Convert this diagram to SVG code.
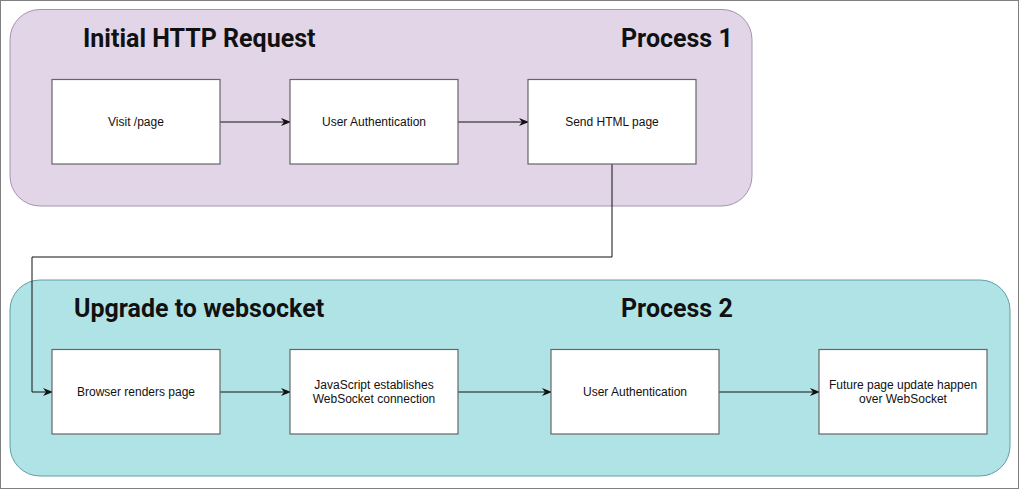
<svg xmlns="http://www.w3.org/2000/svg" width="1021" height="491" viewBox="0 0 1021 491">
<defs>
<marker id="arr" viewBox="0 0 10 10" refX="9" refY="5" markerWidth="10" markerHeight="10" markerUnits="userSpaceOnUse" orient="auto">
<path d="M0,1 L10,5 L0,9 L3,5 Z" fill="#111"/>
</marker>
<style>
.box{fill:#ffffff;stroke:#666666;stroke-width:1.2}
.lbl{font-family:"Liberation Sans",Arial,sans-serif;font-size:12px;fill:#111;text-anchor:middle}
.title{font-family:Roboto,"Liberation Sans",sans-serif;font-weight:bold;font-size:25px;fill:#111}
.edge{fill:none;stroke:#111;stroke-width:1;marker-end:url(#arr)}
</style>
</defs>
<rect x="0.5" y="0.5" width="1018" height="488" fill="#ffffff" stroke="#808080" stroke-width="1"/>
<g id="process1">
<rect x="10" y="9.5" width="742" height="196.5" rx="30" ry="30" fill="#e1d5e7" stroke="#a594ad" stroke-width="1"/>
<text class="title" x="83" y="47">Initial HTTP Request</text>
<text class="title" x="621" y="47">Process 1</text>
</g>
<g id="process2">
<rect x="10" y="280" width="1000" height="196" rx="30" ry="30" fill="#b0e3e6" stroke="#5f9ea2" stroke-width="1"/>
<text class="title" x="74" y="317">Upgrade to websocket</text>
<text class="title" x="621" y="317">Process 2</text>
</g>
<g id="connectors">
<path class="edge" d="M220,122 H290"/>
<path class="edge" d="M458,122 H528"/>
<path class="edge" stroke="#666" d="M612,164 V257 H32 V392 H52"/>
<path class="edge" d="M220,392 H290"/>
<path class="edge" d="M458,392 H551"/>
<path class="edge" d="M719,392 H819"/>
</g>
<g id="visit-page">
<rect class="box" x="52" y="79.5" width="168" height="84.5"/>
<text class="lbl" x="136" y="126">Visit /page</text>
</g>
<g id="user-auth-1">
<rect class="box" x="290" y="79.5" width="168" height="84.5"/>
<text class="lbl" x="374" y="126">User Authentication</text>
</g>
<g id="send-html">
<rect class="box" x="528" y="79.5" width="168" height="84.5"/>
<text class="lbl" x="612" y="126">Send HTML page</text>
</g>
<g id="browser-renders">
<rect class="box" x="52" y="349.5" width="168" height="84.5"/>
<text class="lbl" x="136" y="396">Browser renders page</text>
</g>
<g id="js-establishes">
<rect class="box" x="290" y="349.5" width="168" height="84.5"/>
<text class="lbl" x="374" y="389">JavaScript establishes</text>
<text class="lbl" x="374" y="403">WebSocket connection</text>
</g>
<g id="user-auth-2">
<rect class="box" x="551" y="349.5" width="168" height="84.5"/>
<text class="lbl" x="635" y="396">User Authentication</text>
</g>
<g id="future-updates">
<rect class="box" x="819" y="349.5" width="168" height="84.5"/>
<text class="lbl" x="903" y="389">Future page update happen</text>
<text class="lbl" x="903" y="403">over WebSocket</text>
</g>
</svg>
